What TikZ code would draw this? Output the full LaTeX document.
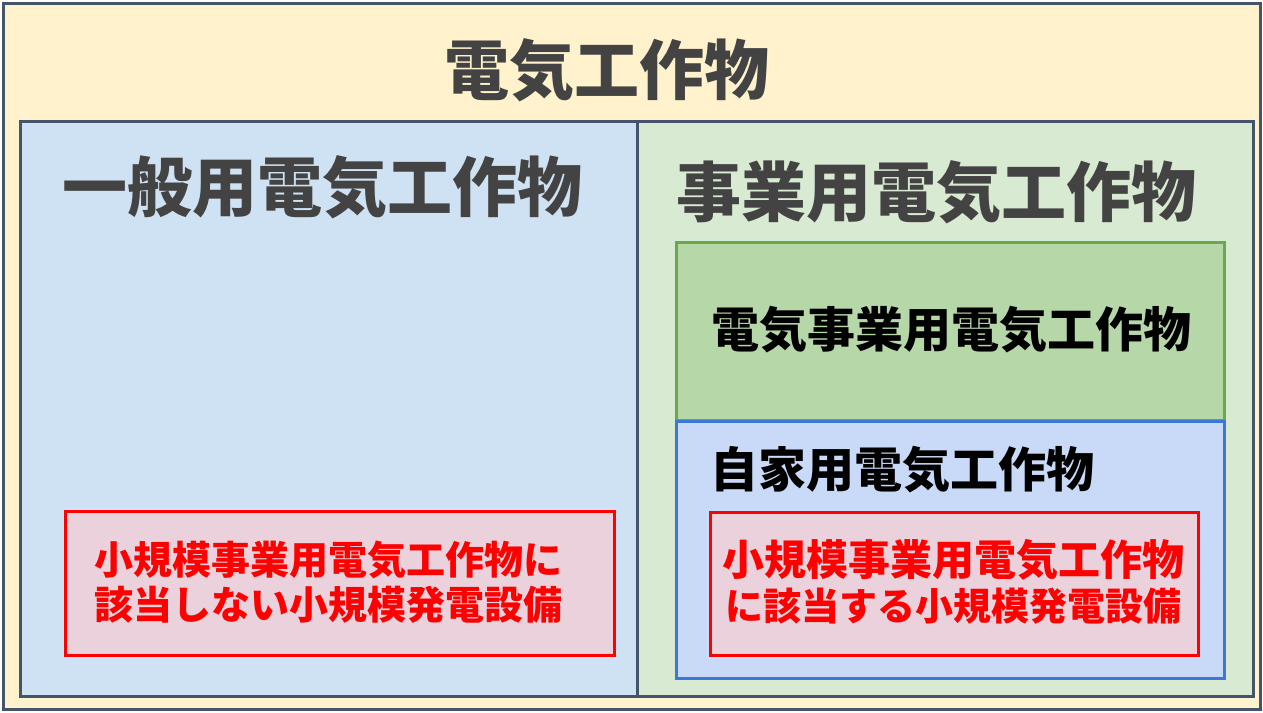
\documentclass[tikz,border=0pt]{standalone}
\usepackage{fontspec}
\setmainfont{Noto Sans CJK JP}
\definecolor{outerfill}{HTML}{FFF2CC}
\definecolor{slate}{HTML}{44546A}
\definecolor{leftfill}{HTML}{CFE2F3}
\definecolor{rightfill}{HTML}{D9EAD3}
\definecolor{greenfill}{HTML}{B6D7A8}
\definecolor{greenline}{HTML}{6AA84F}
\definecolor{bluefill}{HTML}{C9DAF8}
\definecolor{blueline}{HTML}{3C78D8}
\definecolor{pinkfill}{HTML}{EAD1DC}
\definecolor{redline}{HTML}{FF0000}
\definecolor{darktext}{HTML}{434343}
\tikzset{
  box/.style={line width=3pt},
  bigtitle/.style={inner sep=0pt, font=\fontsize{65}{78}\selectfont\bfseries, text=darktext},
  midtitle/.style={inner sep=0pt, font=\fontsize{48}{58}\selectfont\bfseries, text=black},
  redtext/.style={inner sep=0pt, font=\bfseries, text=redline, align=center},
}
\begin{document}
\begin{tikzpicture}[x=1pt,y=-1pt]
\useasboundingbox (0,0) rectangle (1263,712);
\draw[box, draw=slate, fill=outerfill] (3,3) rectangle (1260,709);
\node[bigtitle] (t0) at (607,70) {電気工作物};
\draw[box, draw=slate, fill=leftfill] (20,121) rectangle (637,696);
\draw[box, draw=slate, fill=rightfill] (637,121) rectangle (1253,696);
\node[bigtitle] (t1) at (322,187) {一般用電気工作物};
\node[bigtitle] (t2) at (936,192) {事業用電気工作物};
\draw[box, draw=greenline, fill=greenfill] (676,242) rectangle (1224,420);
\node[midtitle] (t3) at (951,330) {電気事業用電気工作物};
\draw[box, draw=blueline, fill=bluefill] (676,421) rectangle (1224,678);
\node[midtitle, anchor=west] (t4) at (710,470) {自家用電気工作物};
\draw[box, draw=redline, fill=pinkfill] (710,512) rectangle (1198,655);
\node[redtext, font=\fontsize{42}{45}\selectfont\bfseries] (t5) at (953,582) {小規模事業用電気工作物\\{\fontsize{38}{45}\selectfont に該当する小規模発電設備}};
\draw[box, draw=redline, fill=pinkfill] (65,511) rectangle (614,655);
\node[redtext, font=\fontsize{39}{45}\selectfont\bfseries] (t6) at (328,582) {小規模事業用電気工作物に\\該当しない小規模発電設備};
\end{tikzpicture}
\end{document}
